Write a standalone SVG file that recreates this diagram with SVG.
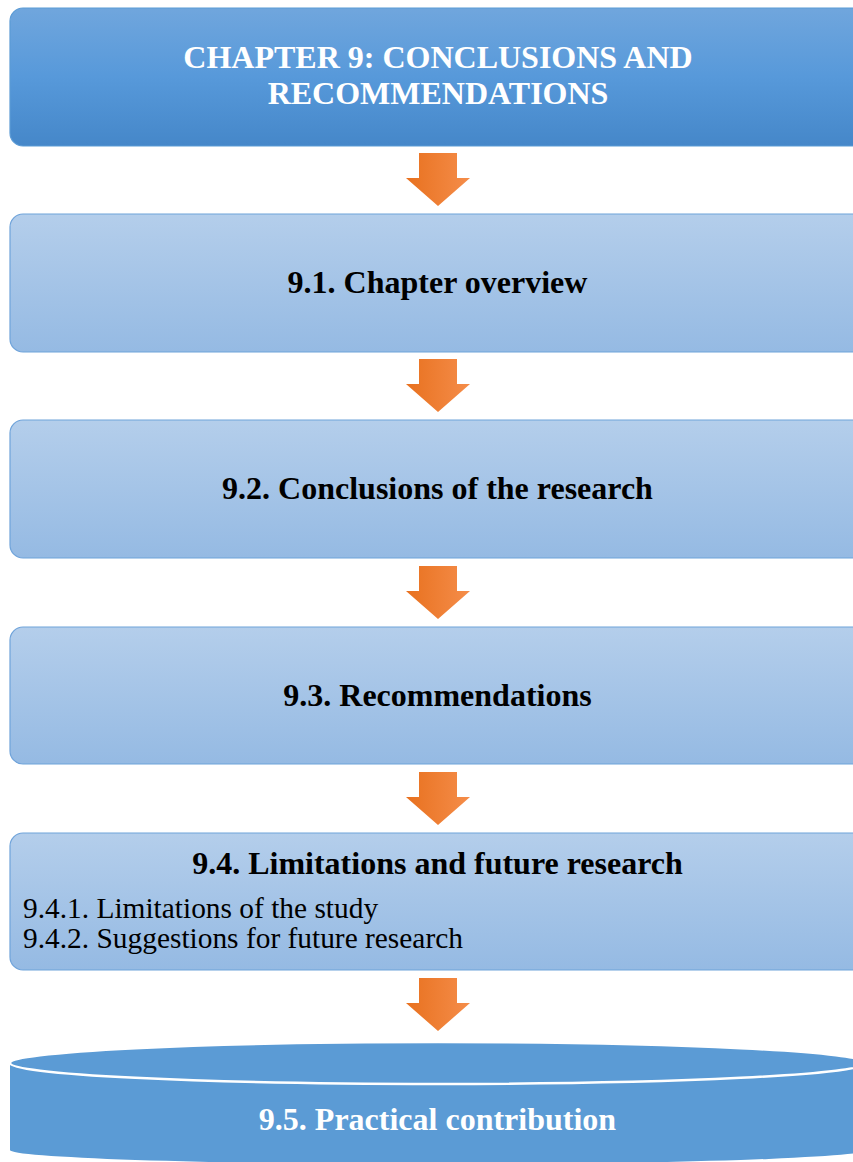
<svg xmlns="http://www.w3.org/2000/svg" width="853" height="1162" viewBox="0 0 853 1162">
  <defs>
    <linearGradient id="gHead" x1="0" y1="0" x2="0" y2="1">
      <stop offset="0" stop-color="#70a6dd"/>
      <stop offset="0.5" stop-color="#5799da"/>
      <stop offset="1" stop-color="#4587c9"/>
    </linearGradient>
    <linearGradient id="gStep" x1="0" y1="0" x2="0" y2="1">
      <stop offset="0" stop-color="#b4ceeb"/>
      <stop offset="1" stop-color="#95bae3"/>
    </linearGradient>
    <linearGradient id="gArrow" x1="0" y1="0" x2="1" y2="0">
      <stop offset="0" stop-color="#e8711f"/>
      <stop offset="1" stop-color="#f58d4a"/>
    </linearGradient>
    <path id="arrow" d="M-19,0 H19 V25 H32 L0,53 L-32,25 H-19 Z"/>
  </defs>
  <style>
    .head { fill: url(#gHead); stroke: #5b9bd5; stroke-width: 1.2; }
    .step { fill: url(#gStep); stroke: #6fa3da; stroke-width: 1.2; }
    .arr { fill: url(#gArrow); }
    .tw { font-family: "Liberation Serif", "Times New Roman", serif; font-weight: bold; font-size: 32px; fill: #ffffff; text-anchor: middle; }
    .tb { font-family: "Liberation Serif", "Times New Roman", serif; font-weight: bold; font-size: 32px; fill: #000000; text-anchor: middle; }
    .tr { font-family: "Liberation Serif", "Times New Roman", serif; font-size: 29.4px; fill: #000000; }
    .cyl { fill: #5b9bd5; }
  </style>

  <!-- connectors: block arrows between stages -->
  <g id="connectors">
    <use href="#arrow" class="arr" x="438" y="153"/>
    <use href="#arrow" class="arr" x="438" y="359"/>
    <use href="#arrow" class="arr" x="438" y="566"/>
    <use href="#arrow" class="arr" x="438" y="772"/>
    <use href="#arrow" class="arr" x="438" y="978"/>
  </g>

  <g id="chapter9">
    <rect class="head" x="10" y="8" width="870" height="138" rx="13"/>
    <text class="tw"><tspan x="438" y="68">CHAPTER 9: CONCLUSIONS AND</tspan><tspan x="438" y="104">RECOMMENDATIONS</tspan></text>
  </g>

  <g id="s9_1">
    <rect class="step" x="10" y="214" width="870" height="138" rx="13"/>
    <text class="tb" x="437.5" y="293">9.1. Chapter overview</text>
  </g>

  <g id="s9_2">
    <rect class="step" x="10" y="420" width="870" height="138" rx="13"/>
    <text class="tb" x="437.5" y="499">9.2. Conclusions of the research</text>
  </g>

  <g id="s9_3">
    <rect class="step" x="10" y="627" width="870" height="137" rx="13"/>
    <text class="tb" x="437.5" y="706">9.3. Recommendations</text>
  </g>

  <g id="s9_4">
    <rect class="step" x="10" y="833" width="870" height="137" rx="13"/>
    <text class="tb" x="437.5" y="874">9.4. Limitations and future research</text>
    <text class="tr"><tspan x="23" y="918">9.4.1. Limitations of the study</tspan><tspan x="23" y="948">9.4.2. Suggestions for future research</tspan></text>
  </g>

  <g id="s9_5">
    <path class="cyl" d="M10,1063 V1150 A428,14 0 0 0 866,1150 V1063 Z"/>
    <ellipse class="cyl" cx="438" cy="1063" rx="428" ry="21" stroke="#ffffff" stroke-width="2.5"/>
    <text class="tw" x="437.5" y="1130">9.5. Practical contribution</text>
  </g>
</svg>
